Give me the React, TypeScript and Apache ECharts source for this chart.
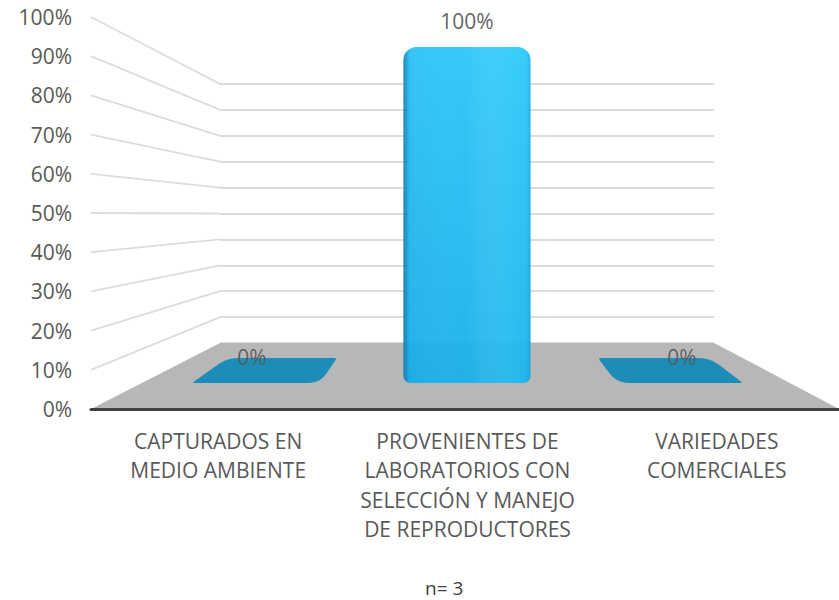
import React, { useEffect, useRef } from "react";
import * as echarts from "echarts";

const CATEGORIES = [
  "CAPTURADOS EN\nMEDIO AMBIENTE",
  "PROVENIENTES DE\nLABORATORIOS CON\nSELECCIÓN Y MANEJO\nDE REPRODUCTORES",
  "VARIEDADES\nCOMERCIALES",
];
const VALUES = [0, 100, 0];
const WALL_TICKS = [10, 20, 30, 40, 50, 60, 70, 80, 90, 100];
const FOOTNOTE = "n= 3";

const FONT = '"Open Sans", sans-serif';
const TEXT = "#595959";
const WALL = "#dcdcdc";

// Perspective of the side walls and floor, in data units of the front plane
const BACK_FLOOR = 16.84;
const BACK_SCALE = 0.6607;
const BACK_LEFT = 0.1725;
const BACK_RIGHT = 0.833;
const backValue = (v: number) => BACK_FLOOR + BACK_SCALE * v;

function rounded(pts: number[][], radii: number[]) {
  const out: number[][] = [];
  const n = pts.length;
  pts.forEach((p, i) => {
    const a = pts[(i + n - 1) % n];
    const b = pts[(i + 1) % n];
    const r = radii[i];
    const la = Math.hypot(a[0] - p[0], a[1] - p[1]);
    const lb = Math.hypot(b[0] - p[0], b[1] - p[1]);
    const s = [p[0] + ((a[0] - p[0]) * r) / la, p[1] + ((a[1] - p[1]) * r) / la];
    const e = [p[0] + ((b[0] - p[0]) * r) / lb, p[1] + ((b[1] - p[1]) * r) / lb];
    for (let t = 0; t <= 1.001; t += 0.2) {
      const q = 1 - t;
      out.push([
        q * q * s[0] + 2 * q * t * p[0] + t * t * e[0],
        q * q * s[1] + 2 * q * t * p[1] + t * t * e[1],
      ]);
    }
  });
  return out;
}

export default function App() {
  const ref = useRef<HTMLDivElement>(null);
  useEffect(() => {
    const chart = echarts.init(ref.current!, null, { renderer: "svg" });
    chart.setOption({
      animation: false,
      backgroundColor: "#ffffff",
      title: {
        text: FOOTNOTE,
        left: 420,
        top: 573,
        textStyle: { fontFamily: FONT, fontSize: 19, fontWeight: "normal", color: "#404040" },
      },
      grid: [
        { left: 91, width: 748, top: 17, height: 392 },
        { left: 220, width: 494, top: 84, height: 259 },
        { left: 144.5, width: 645, top: 47, height: 336 },
      ],
      xAxis: [
        {
          gridIndex: 0,
          type: "category",
          data: CATEGORIES,
          z: 6,
          axisLine: { show: true, lineStyle: { color: "#404040", width: 3 } },
          axisTick: { show: false },
          axisLabel: {
            interval: 0,
            margin: 17,
            lineHeight: 29.5,
            fontFamily: FONT,
            fontSize: 21,
            color: TEXT,
            padding: [0, 0, 0, 5],
          },
        },
        { gridIndex: 0, type: "value", min: 0, max: 1, show: false },
        { gridIndex: 1, type: "value", min: 0, max: 1, show: false },
        { gridIndex: 2, type: "category", data: CATEGORIES, show: false },
      ],
      yAxis: [
        {
          gridIndex: 0,
          type: "value",
          min: 0,
          max: 100,
          interval: 10,
          axisLine: { show: false },
          axisTick: { show: false },
          splitLine: { show: false },
          axisLabel: {
            formatter: "{value}%",
            margin: 19,
            fontFamily: FONT,
            fontSize: 21,
            color: TEXT,
          },
        },
        {
          gridIndex: 1,
          type: "value",
          min: 0,
          max: 100,
          interval: 10,
          axisLine: { show: false },
          axisTick: { show: false },
          axisLabel: { show: false },
          splitLine: { show: true, lineStyle: { color: WALL, width: 1.8 } },
        },
        { gridIndex: 2, type: "value", min: 0, max: 100, show: false },
      ],
      series: [
        {
          type: "custom",
          xAxisIndex: 1,
          yAxisIndex: 0,
          z: 2,
          silent: true,
          clip: false,
          data: [[0, 0]],
          renderItem: (_p: any, api: any) => ({
            type: "polygon",
            shape: {
              points: [
                api.coord([0, 0]),
                api.coord([1, 0]),
                api.coord([BACK_RIGHT, backValue(0)]),
                api.coord([BACK_LEFT, backValue(0)]),
              ],
            },
            style: { fill: "#b7b7b7" },
          }),
        },
        {
          type: "custom",
          xAxisIndex: 1,
          yAxisIndex: 0,
          z: 2,
          silent: true,
          clip: false,
          data: WALL_TICKS.map((v) => [0, v]),
          renderItem: (_p: any, api: any) => {
            const v = api.value(1);
            const a = api.coord([0, v]);
            const b = api.coord([BACK_LEFT, backValue(v)]);
            return {
              type: "line",
              shape: { x1: a[0], y1: a[1], x2: b[0], y2: b[1] },
              style: { stroke: WALL, lineWidth: 1.8 },
            };
          },
        },
        {
          type: "custom",
          xAxisIndex: 3,
          yAxisIndex: 2,
          z: 3,
          silent: true,
          clip: false,
          data: VALUES.map((v, i) => [i, v]),
          renderItem: (_p: any, api: any) => {
            if (api.value(1) !== 0) return null;
            const c = api.coord([api.value(0), api.value(1)]);
            const side = api.value(0) < 1 ? -1 : 1;
            // flat footprint of an empty bar, leaning towards the vanishing point
            const off =
              side < 0
                ? [[-60, 0], [68, 0], [85, -25], [-25, -25]]
                : [[-65, 0], [61, 0], [28, -25], [-84, -25]];
            const radii = side < 0 ? [3, 12, 3, 12] : [12, 3, 12, 3];
            const pts = off.map((o) => [c[0] + o[0], c[1] + o[1]]);
            return {
              type: "polygon",
              shape: { points: rounded(pts, radii) },
              style: { fill: "#1b8db8" },
            };
          },
        },
        {
          type: "bar",
          xAxisIndex: 3,
          yAxisIndex: 2,
          z: 4,
          barWidth: 127,
          data: VALUES,
          itemStyle: {
            borderRadius: [13, 13, 7, 7],
            opacity: 0.95,
            color: new echarts.graphic.LinearGradient(0, 0, 0, 1, [
              { offset: 0, color: "#2cc6f9" },
              { offset: 1, color: "#19b0ea" },
            ]),
          },
          label: {
            show: true,
            position: "top",
            distance: 16,
            formatter: "{c}%",
            fontFamily: FONT,
            fontSize: 21,
            color: TEXT,
          },
        },
        {
          type: "bar",
          xAxisIndex: 3,
          yAxisIndex: 2,
          z: 5,
          barWidth: 127,
          barGap: "-100%",
          silent: true,
          data: VALUES,
          itemStyle: {
            borderRadius: [13, 13, 7, 7],
            color: new echarts.graphic.LinearGradient(0, 0, 1, 0, [
              { offset: 0, color: "rgba(10,70,110,0.5)" },
              { offset: 0.05, color: "rgba(10,90,140,0.04)" },
              { offset: 0.5, color: "rgba(255,255,255,0)" },
              { offset: 0.85, color: "rgba(70,225,255,0.2)" },
              { offset: 0.96, color: "rgba(70,225,255,0.1)" },
              { offset: 1, color: "rgba(10,90,140,0.2)" },
            ]),
          },
        },
      ],
    });
    return () => chart.dispose();
  }, []);
  return (
    <div
      ref={ref}
      style={{ position: "absolute", left: 0, top: 0, width: 839, height: 600 }}
    />
  );
}
